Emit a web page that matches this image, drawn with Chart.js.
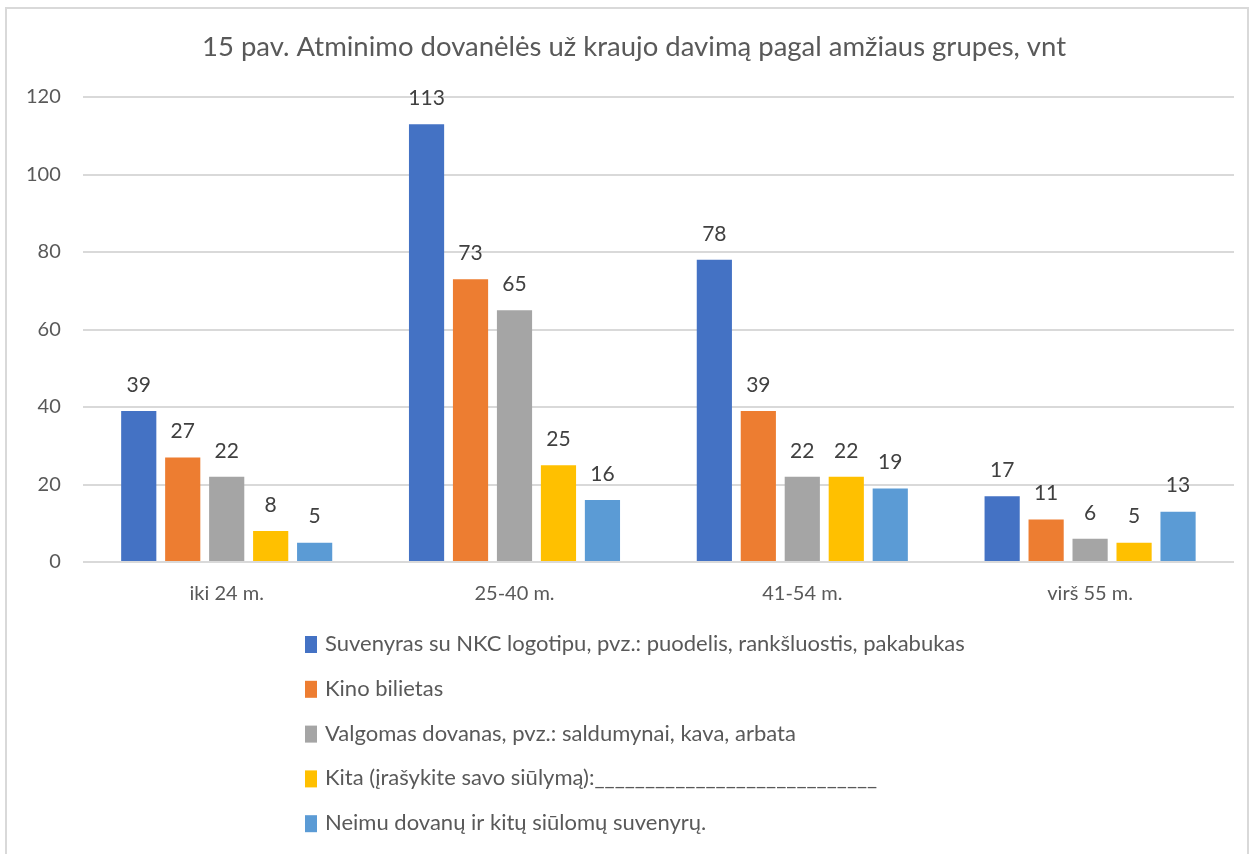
<!DOCTYPE html>
<html>
<head>
<meta charset="utf-8">
<script src="https://cdn.jsdelivr.net/npm/chart.js@4"></script>
<style>
  html, body { margin: 0; padding: 0; background: #fff; overflow: hidden; }
  #wrap { position: relative; width: 1256px; height: 854px; }
  #frame { position: absolute; left: 5px; top: 7px; width: 1244px; height: 880px; border: 2px solid #d9d9d9; box-sizing: border-box; }
  canvas { position: absolute; left: 0; top: 0; }
</style>
</head>
<body>
<div id="wrap">
  <div id="frame"></div>
  <canvas id="chart" width="1256" height="854"></canvas>
</div>
<script>
// ageGroups
const ageGroups = ['iki 24 m.', '25-40 m.', '41-54 m.', 'virš 55 m.'];

const seriesNames = [
  'Suvenyras su NKC logotipu, pvz.: puodelis, rankšluostis, pakabukas',
  'Kino bilietas',
  'Valgomas dovanas, pvz.: saldumynai, kava, arbata',
  'Kita (įrašykite savo siūlymą):____________________________',
  'Neimu dovanų ir kitų siūlomų suvenyrų.'
];
const suvenyras = [39, 113, 78, 17];
const kino = [27, 73, 39, 11];
const valgomas = [22, 65, 22, 6];
const kita = [8, 25, 22, 5];
const neimu = [5, 16, 19, 13];
const seriesColors = ['#4472C4', '#ED7D31', '#A5A5A5', '#FFC000', '#5B9BD5'];

const yTicks = [0, 20, 40, 60, 80, 100, 120];
const titleText = '15 pav. Atminimo dovanėlės už kraujo davimą pagal amžiaus grupes, vnt';

const FONT = 'Lato, "Open Sans", sans-serif';
const seriesData = [suvenyras, kino, valgomas, kita, neimu];

// title, centred on the frame rather than the padded box
const frameTitle = {
  id: 'frameTitle',
  afterDraw(chart) {
    const ctx = chart.ctx;
    ctx.save();
    ctx.font = '27.5px ' + FONT;
    ctx.fillStyle = '#595959';
    ctx.textAlign = 'center';
    ctx.textBaseline = 'middle';
    ctx.fillText(titleText, 634, 47);
    ctx.restore();
  }
};

// value labels above bars
const valueLabels = {
  id: 'valueLabels',
  afterDatasetsDraw(chart) {
    const ctx = chart.ctx;
    ctx.save();
    ctx.font = '21px ' + FONT;
    ctx.fillStyle = '#404040';
    ctx.textAlign = 'center';
    ctx.textBaseline = 'middle';
    chart.data.datasets.forEach((ds, i) => {
      chart.getDatasetMeta(i).data.forEach((bar, j) => {
        ctx.fillText(ds.data[j], bar.x, bar.y - 26);
      });
    });
    ctx.restore();
  }
};

// vertical legend under the plot
const listLegend = {
  id: 'listLegend',
  afterDraw(chart) {
    const ctx = chart.ctx;
    ctx.save();
    ctx.font = '22px ' + FONT;
    ctx.textBaseline = 'middle';
    chart.data.datasets.forEach((ds, i) => {
      const y = 644 + i * 44.8;
      ctx.fillStyle = ds.backgroundColor;
      ctx.fillRect(305, y - 8, 12, 17);
      ctx.fillStyle = '#595959';
      ctx.fillText(ds.label, 325, y);
    });
    ctx.restore();
  }
};

new Chart(document.getElementById('chart'), {
  type: 'bar',
  data: {
    labels: ageGroups,
    datasets: seriesNames.map((name, i) => ({
      label: name,
      data: seriesData[i],
      backgroundColor: seriesColors[i],
      barPercentage: 0.8,
      categoryPercentage: 0.764
    }))
  },
  options: {
    responsive: false,
    animation: false,
    layout: { padding: { left: 4, right: 22, top: 97, bottom: 236 } },
    plugins: {
      legend: { display: false },
      tooltip: { enabled: false },
      title: { display: false }
    },
    scales: {
      y: {
        min: 0, max: 120,
        afterBuildTicks: axis => { axis.ticks = yTicks.map(v => ({ value: v })); },
        grid: { color: '#d9d9d9', lineWidth: 2, drawTicks: false },
        border: { display: false },
        ticks: { color: '#595959', font: { family: FONT, size: 20 }, padding: 22 }
      },
      x: {
        grid: { display: false },
        border: { display: false },
        ticks: { color: '#595959', font: { family: FONT, size: 20 }, padding: 12 }
      }
    }
  },
  plugins: [frameTitle, valueLabels, listLegend]
});
</script>
</body>
</html>
